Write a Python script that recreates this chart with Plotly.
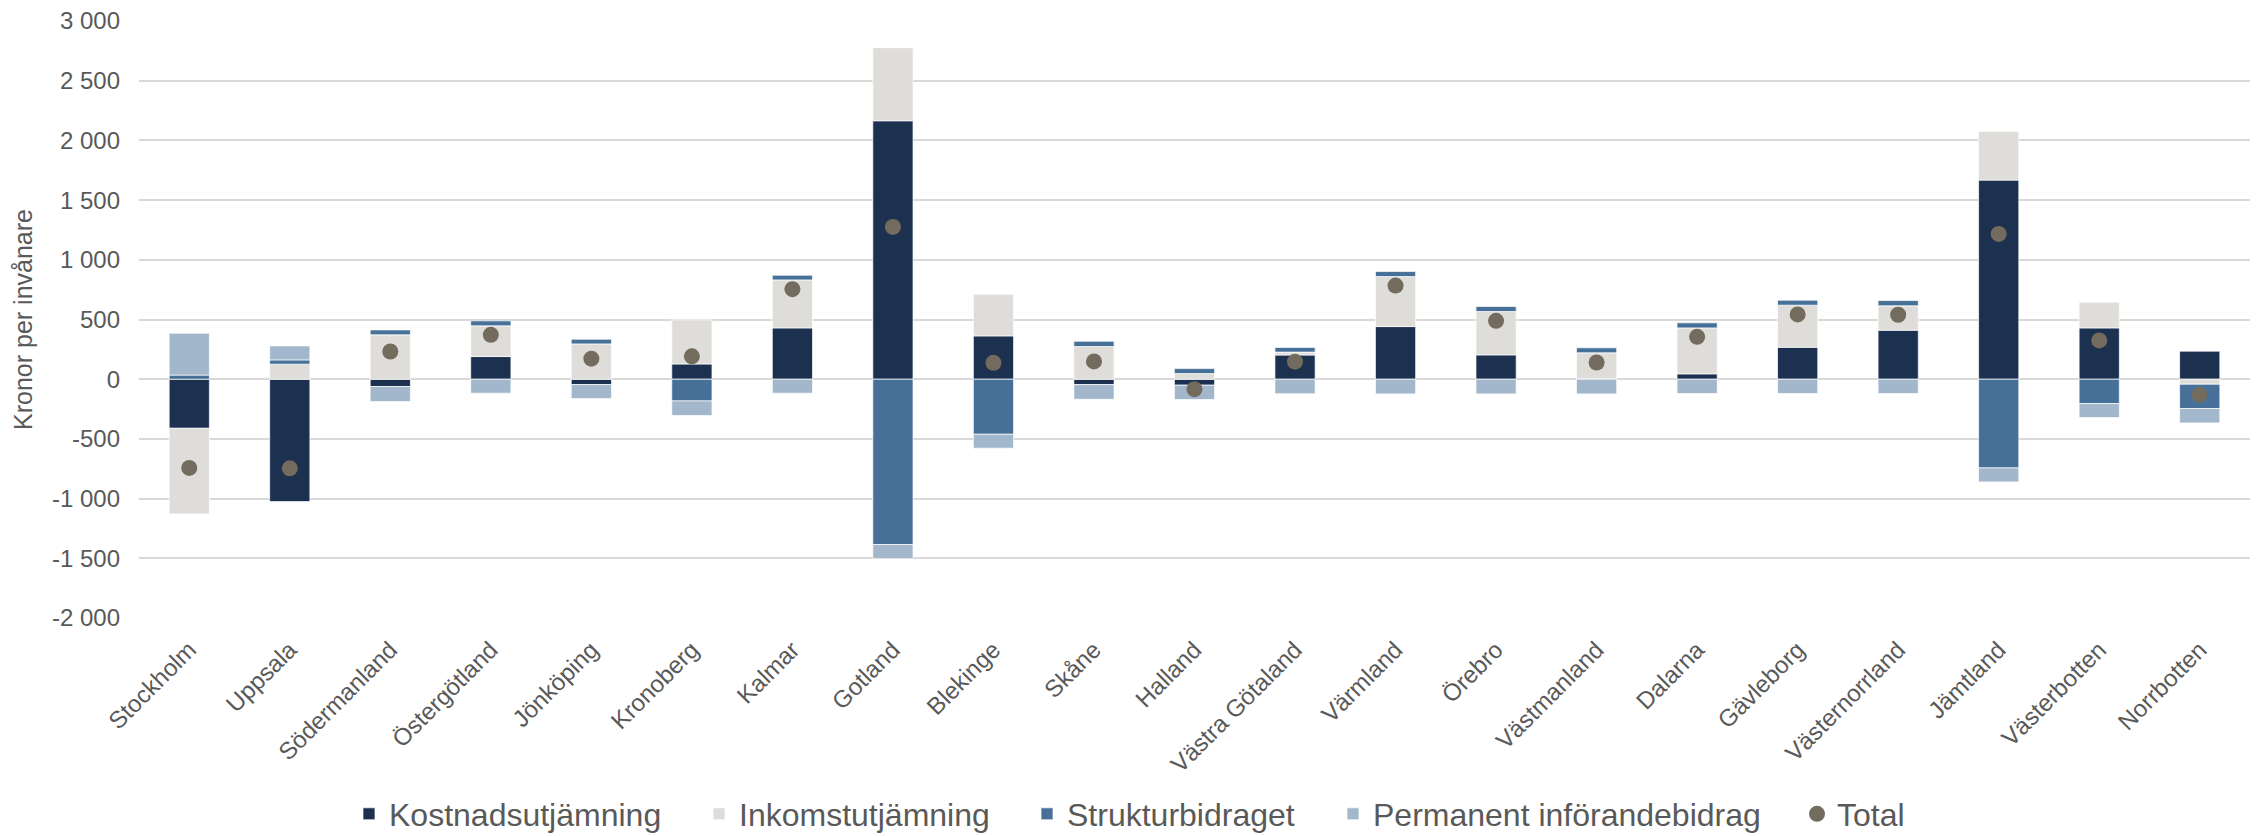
import plotly.graph_objects as go

categories = ["Stockholm", "Uppsala", "Södermanland", "Östergötland", "Jönköping",
              "Kronoberg", "Kalmar", "Gotland", "Blekinge", "Skåne", "Halland",
              "Västra Götaland", "Värmland", "Örebro", "Västmanland", "Dalarna",
              "Gävleborg", "Västernorrland", "Jämtland", "Västerbotten", "Norrbotten"]

kostnad = [-411, -1025, -61, 190, -45, 128, 430, 2165, 363, -45, -50,
           203, 441, 204, 3, 45, 268, 411, 1668, 430, 235]
inkomst = [-717, 126, 372, 257, 296, 369, 402, 612, 349, 274, 47,
           24, 419, 363, 218, 385, 352, 204, 408, 215, -42]
struktur = [35, 36, 41, 42, 39, -182, 39, -1385, -461, 44, 42,
            39, 42, 42, 42, 42, 42, 44, -743, -204, -204]
permanent = [350, 117, -126, -117, -117, -122, -117, -118, -117, -123, -120,
             -122, -123, -123, -123, -120, -120, -120, -117, -117, -120]
total = [-743, -746, 232, 372, 172, 192, 754, 1276, 137, 149, -83,
         147, 784, 489, 140, 355, 543, 540, 1217, 325, -131]

ytick_vals = [3000, 2500, 2000, 1500, 1000, 500, 0, -500, -1000, -1500, -2000]
ytick_text = ["3 000", "2 500", "2 000", "1 500", "1 000", "500", "0",
              "-500", "-1 000", "-1 500", "-2 000"]

FONT = "Liberation Sans, Arial, sans-serif"
TXT = "#595959"
line = dict(width=1, color="rgba(255,255,255,0.7)")

# the page body adds an 8 px offset, so the figure is 8 px smaller each way
W, H = 2252, 828
ML, MR, MT, MB = 131, 10, 13, 218
PW = W - ML - MR
PH = H - MT - MB

fig = go.Figure()
fig.add_trace(go.Bar(x=categories, y=kostnad, name="Kostnadsutjämning",
                     marker=dict(color="#1c3050", line=line), legend="legend"))
fig.add_trace(go.Bar(x=categories, y=inkomst, name="Inkomstutjämning",
                     marker=dict(color="#deddd9", line=line), legend="legend2"))
fig.add_trace(go.Bar(x=categories, y=struktur, name="Strukturbidraget",
                     marker=dict(color="#467098", line=line), legend="legend3"))
fig.add_trace(go.Bar(x=categories, y=permanent, name="Permanent införandebidrag",
                     marker=dict(color="#a2b7cb", line=line), legend="legend4"))
fig.add_trace(go.Scatter(x=categories, y=total, name="Total", mode="markers",
                         marker=dict(color="#736b5e", size=16, symbol="circle"),
                         legend="legend5"))

# legend left edges in figure pixels
leg_px = [341, 691, 1019, 1325, 1789]
leg_y = -(806 - (H - MB)) / PH


def leg(px):
    return dict(orientation="h", x=(px - ML) / PW, xanchor="left",
                y=leg_y, yanchor="middle", font=dict(size=32, color=TXT),
                bgcolor="rgba(0,0,0,0)")


fig.update_layout(
    width=W, height=H,
    barmode="relative", bargap=0.6,
    plot_bgcolor="white", paper_bgcolor="white",
    margin=dict(l=ML, r=MR, t=MT, b=MB, autoexpand=False),
    font=dict(family=FONT, size=24, color=TXT),
    legend=leg(leg_px[0]), legend2=leg(leg_px[1]), legend3=leg(leg_px[2]),
    legend4=leg(leg_px[3]), legend5=leg(leg_px[4]),
    showlegend=True,
)
fig.update_xaxes(tickangle=-45, tickfont=dict(size=24, color=TXT),
                 range=[-0.5, len(categories) - 0.5], ticklabelstandoff=12,
                 showgrid=False, showline=False, ticks="", automargin=False)
fig.update_yaxes(range=[-2000, 3000.5], tickvals=ytick_vals, ticktext=ytick_text,
                 showgrid=True, gridcolor="#d9d9d9", gridwidth=1.5,
                 zeroline=True, zerolinecolor="#d9d9d9", zerolinewidth=1.5,
                 tickfont=dict(size=24, color=TXT), ticks="", ticklen=0,
                 ticklabelstandoff=18, ticklabeloverflow="allow", automargin=True,
                 title=dict(text="Kronor per invånare", font=dict(size=25, color=TXT),
                            standoff=12))

fig.write_html("out.html")
